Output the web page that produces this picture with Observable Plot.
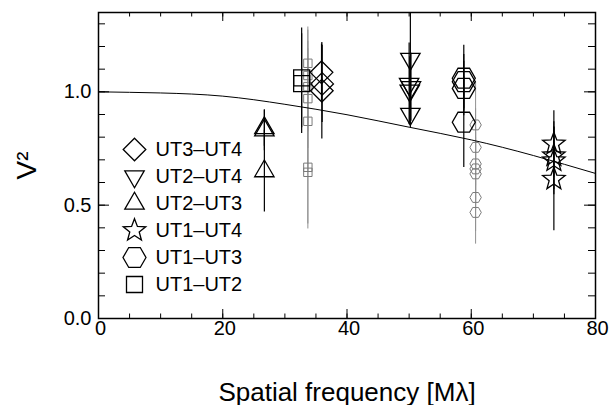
<!DOCTYPE html>
<html>
<head>
<meta charset="utf-8">
<script src="https://cdn.jsdelivr.net/npm/d3@7"></script>
<script src="https://cdn.jsdelivr.net/npm/@observablehq/plot@0.6"></script>
<style>
  html, body { margin: 0; padding: 0; background: #fff; }
  #chart svg { display: block; }
</style>
</head>
<body>
<div id="chart"></div>
<script>
// Baselines, in legend order
const baselines = ["UT3–UT4", "UT2–UT4", "UT2–UT3", "UT1–UT4", "UT1–UT3", "UT1–UT2"];

// Squared visibilities per baseline: spatial frequency [Mλ], V², 1σ error
const ut34Freq = [35.9, 36.0, 35.95];
const ut34V2 = [1.086, 1.035, 1.005];
const ut34Err = [0.125, 0.17, 0.213];

const ut24Freq = [50.2, 50.0, 50.3, 50.1, 50.2];
const ut24V2 = [1.145, 1.035, 1.02, 1.005, 0.902];
const ut24Err = [0.205, 0.18, 0.15, 0.15, 0.06];

const ut23Freq = [26.7, 26.7, 26.7];
const ut23V2 = [0.84, 0.83, 0.65];
const ut23Err = [0.08, 0.09, 0.18];

const ut14Freq = [73.3, 73.3, 73.3, 73.3];
const ut14V2 = [0.77, 0.718, 0.696, 0.615];
const ut14Err = [0.147, 0.15, 0.15, 0.228];

const ut13Freq = [58.8, 58.8, 58.8, 58.8];
const ut13V2 = [1.06, 1.045, 1.015, 0.866];
const ut13Err = [0.145, 0.12, 0.12, 0.2];

const ut12Freq = [32.7, 32.7];
const ut12V2 = [1.062, 1.036];
const ut12Err = [0.22, 0.22];

// Second data set (grey): UT1–UT2 and UT1–UT3
const ut12bFreq = [33.7, 33.7, 33.7, 33.7, 33.7, 33.7, 33.7];
const ut12bV2 = [1.126, 1.072, 1.023, 0.97, 0.87, 0.667, 0.645];
const ut12bErr = [0.16, 0.2, 0.2, 0.22, 0.22, 0.25, 0.25];

const ut13bFreq = [60.7, 60.7, 60.7, 60.7, 60.7, 60.7, 60.7];
const ut13bV2 = [0.854, 0.755, 0.682, 0.66, 0.638, 0.534, 0.468];
const ut13bErr = [0.19, 0.17, 0.16, 0.16, 0.16, 0.15, 0.14];

// Model visibility curve
const modelFreq = [0, 10, 20, 30, 40, 50, 60, 70, 80];
const modelV2 = [1.0, 0.995, 0.981, 0.945, 0.899, 0.844, 0.788, 0.719, 0.64];

// Axis ticks
const xMajor = [0, 20, 40, 60, 80];
const xMinor = d3.range(0, 81, 5);
const yMajor = [0, 0.5, 1.0];
const yMinor = d3.range(0, 14).map(i => i / 10);

// Outline symbols; r is the half-width of the shape
const poly = pts => ({
  draw(ctx, size) {
    const r = Math.sqrt(size / Math.PI);
    pts.forEach(([u, v], i) => i ? ctx.lineTo(u * r, v * r) : ctx.moveTo(u * r, v * r));
    ctx.closePath();
  }
});
const ring = (n, start, radii) => d3.range(n).map(i => {
  const a = start + 2 * Math.PI * i / n;
  const k = radii[i % radii.length];
  return [k * Math.cos(a), k * Math.sin(a)];
});
const symbols = {
  diamond: poly(ring(4, -Math.PI / 2, [1])),
  triDown: poly(ring(3, Math.PI / 2, [1])),
  triUp: poly(ring(3, -Math.PI / 2, [1])),
  star: poly(ring(10, -Math.PI / 2, [1, 0.42])),
  hexagon: poly(ring(6, 0, [1])),
  square: poly(ring(4, -Math.PI / 4, [Math.SQRT2]))
};

const rows = (f, v, e) => f.map((x, i) => ({f: x, v2: v[i], lo: v[i] - e[i], hi: v[i] + e[i]}));

const series = [
  {name: baselines[0], data: rows(ut34Freq, ut34V2, ut34Err), symbol: symbols.diamond, r: 11.3},
  {name: baselines[1], data: rows(ut24Freq, ut24V2, ut24Err), symbol: symbols.triDown, r: 11.2},
  {name: baselines[2], data: rows(ut23Freq, ut23V2, ut23Err), symbol: symbols.triUp, r: 11.2},
  {name: baselines[3], data: rows(ut14Freq, ut14V2, ut14Err), symbol: symbols.star, r: 11.8},
  {name: baselines[4], data: rows(ut13Freq, ut13V2, ut13Err), symbol: symbols.hexagon, r: 11.5},
  {name: baselines[5], data: rows(ut12Freq, ut12V2, ut12Err), symbol: symbols.square, r: 8}
];
const greySeries = [
  {data: rows(ut12bFreq, ut12bV2, ut12bErr), symbol: symbols.square, r: 4.2},
  {data: rows(ut13bFreq, ut13bV2, ut13bErr), symbol: symbols.hexagon, r: 5.7}
];

const W = 613, H = 405;
const mTop = 12, mRight = 18, mBottom = 87, mLeft = 98;
const innerW = W - mLeft - mRight, innerH = H - mTop - mBottom;
const font = "'Liberation Sans', Arial, Helvetica, sans-serif";

const marks = [];

// grey data set
for (const s of greySeries) {
  marks.push(Plot.ruleX(s.data, {x: "f", y1: "lo", y2: "hi", stroke: "#909090", strokeWidth: 1, clip: true}));
}
for (const s of greySeries) {
  marks.push(Plot.dot(s.data, {x: "f", y: "v2", symbol: s.symbol, r: s.r, stroke: "#7a7a7a", fill: "none", strokeWidth: 1}));
}
// black data set
for (const s of series) {
  marks.push(Plot.ruleX(s.data, {x: "f", y1: "lo", y2: "hi", stroke: "#000", strokeWidth: 1.2, clip: true}));
}
for (const s of series) {
  marks.push(Plot.dot(s.data, {x: "f", y: "v2", symbol: s.symbol, r: s.r, stroke: "#000", fill: "none", strokeWidth: 1.3}));
}

// model curve
marks.push(Plot.line(modelFreq.map((f, i) => ({f, v2: modelV2[i]})), {x: "f", y: "v2", curve: "natural", stroke: "#000", strokeWidth: 1}));

// inward ticks on all four sides
marks.push(
  Plot.ruleX(xMinor, {x: d => d, insetTop: innerH - 4.5, stroke: "#000"}),
  Plot.ruleX(xMajor, {x: d => d, insetTop: innerH - 9, stroke: "#000"}),
  Plot.ruleX(xMinor, {x: d => d, insetBottom: innerH - 4.5, stroke: "#000"}),
  Plot.ruleX(xMajor, {x: d => d, insetBottom: innerH - 9, stroke: "#000"}),
  Plot.ruleY(yMinor, {y: d => d, insetRight: innerW - 7, stroke: "#000"}),
  Plot.ruleY(yMajor, {y: d => d, insetRight: innerW - 11, stroke: "#000"}),
  Plot.ruleY(yMinor, {y: d => d, insetLeft: innerW - 7, stroke: "#000"}),
  Plot.ruleY(yMajor, {y: d => d, insetLeft: innerW - 11, stroke: "#000"}),
  Plot.frame({stroke: "#000", strokeWidth: 1.5})
);

// tick labels
marks.push(
  Plot.axisX(xMajor, {anchor: "bottom", tickSize: 0, tickPadding: 2, dx: 2, fontSize: 20, label: null, tickFormat: d3.format("d")}),
  Plot.axisY(yMajor, {anchor: "left", tickSize: 0, tickPadding: 7, fontSize: 20, label: null, tickFormat: d3.format(".1f")})
);

// axis titles
marks.push(
  Plot.text(["Spatial frequency [Mλ]"], {frameAnchor: "bottom", dy: 82, lineAnchor: "bottom", textAnchor: "middle", fontSize: 26, fill: "#000"}),
  Plot.text(["V²"], {frameAnchor: "left", dx: -71, rotate: -90, lineAnchor: "middle", textAnchor: "middle", fontSize: 28, fill: "#000"})
);

// legend
series.forEach((s, i) => {
  const dy = 137 + 27 * i;
  marks.push(
    Plot.dot([s.name], {frameAnchor: "top-left", dx: 36, dy, symbol: s.symbol, r: s.r, stroke: "#000", fill: "none", strokeWidth: 1.3}),
    Plot.text([s.name], {frameAnchor: "top-left", dx: 57, dy, text: d => d, textAnchor: "start", lineAnchor: "middle", fontSize: 20, fill: "#000"})
  );
});

const chart = Plot.plot({
  width: W,
  height: H,
  marginTop: mTop,
  marginRight: mRight,
  marginBottom: mBottom,
  marginLeft: mLeft,
  style: {fontFamily: font, background: "#fff", color: "#000"},
  x: {domain: [0, 80]},
  y: {domain: [0, 1.35]},
  marks
});
document.getElementById("chart").append(chart);
</script>
</body>
</html>
